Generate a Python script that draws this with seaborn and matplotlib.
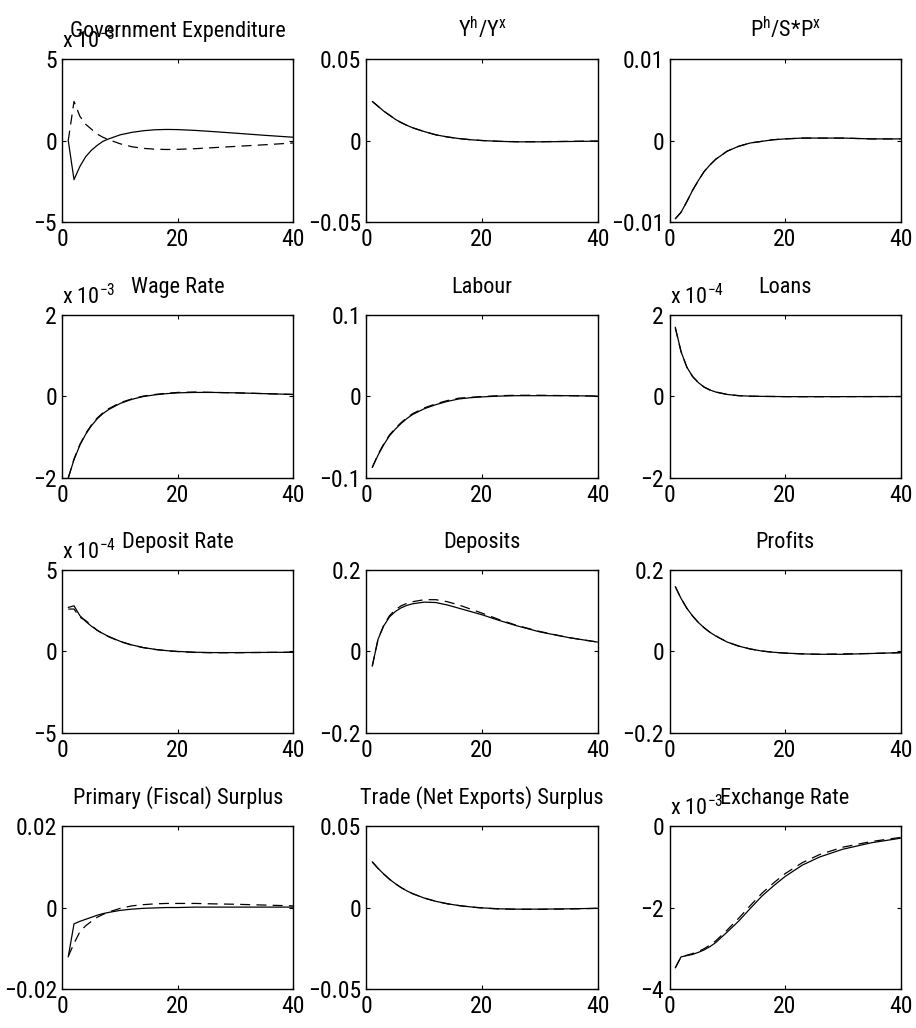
import numpy as np
import pandas as pd
import matplotlib
matplotlib.use("Agg")
import matplotlib.pyplot as plt
from matplotlib import font_manager
import seaborn as sns

# ---------------- data ----------------
periods = [1, 2, 3, 4, 5, 6, 7, 8, 10, 12, 14, 16, 18, 20, 23, 26, 30, 35, 40]

titles = ["Government Expenditure", r"Y$^{\mathrm{h}}$/Y$^{\mathrm{x}}$", r"P$^{\mathrm{h}}$/S*P$^{\mathrm{x}}$",
          "Wage Rate", "Labour", "Loans",
          "Deposit Rate", "Deposits", "Profits",
          "Primary (Fiscal) Surplus", "Trade (Net Exports) Surplus", "Exchange Rate"]

# scale exponents shown as "x 10^k" (values below are in those units)
scale_exp = [-3, None, None, -3, None, -4, -4, None, None, None, None, -3]

y_limits = [(-5, 5), (-0.05, 0.05), (-0.01, 0.01),
            (-2, 2), (-0.1, 0.1), (-2, 2),
            (-5, 5), (-0.2, 0.2), (-0.2, 0.2),
            (-0.02, 0.02), (-0.05, 0.05), (-4, 0)]
y_ticks = [[-5, 0, 5], [-0.05, 0, 0.05], [-0.01, 0, 0.01],
           [-2, 0, 2], [-0.1, 0, 0.1], [-2, 0, 2],
           [-5, 0, 5], [-0.2, 0, 0.2], [-0.2, 0, 0.2],
           [-0.02, 0, 0.02], [-0.05, 0, 0.05], [-4, -2, 0]]
y_ticklabels = [["\u22125", "0", "5"], ["\u22120.05", "0", "0.05"], ["\u22120.01", "0", "0.01"],
                ["\u22122", "0", "2"], ["\u22120.1", "0", "0.1"], ["\u22122", "0", "2"],
                ["\u22125", "0", "5"], ["\u22120.2", "0", "0.2"], ["\u22120.2", "0", "0.2"],
                ["\u22120.02", "0", "0.02"], ["\u22120.05", "0", "0.05"], ["\u22124", "\u22122", "0"]]
x_ticks = [0, 20, 40]

gov_solid = [0, -2.4, -1.6, -1.0, -0.6, -0.3, -0.05, 0.1, 0.35, 0.5, 0.6, 0.66, 0.68, 0.67, 0.62, 0.55, 0.45, 0.32, 0.2]
gov_dash = [0, 2.4, 1.5, 1.0, 0.7, 0.4, 0.2, 0.05, -0.2, -0.38, -0.48, -0.53, -0.55, -0.54, -0.5, -0.44, -0.36, -0.26, -0.15]

yhyx_solid = [0.024, 0.021, 0.018, 0.0155, 0.013, 0.011, 0.0093, 0.0078, 0.0055, 0.0035, 0.0022, 0.0012, 0.0005, 0.0, -0.0005, -0.0008, -0.0008, -0.0006, -0.0004]
yhyx_dash = [0.024, 0.021, 0.018, 0.0155, 0.013, 0.011, 0.0093, 0.0078, 0.0055, 0.0035, 0.0022, 0.0012, 0.0005, 0.0, -0.0005, -0.0007, -0.0007, -0.0005, -0.0003]

phpx_solid = [-0.0096, -0.0088, -0.0075, -0.0061, -0.0049, -0.0038, -0.003, -0.0023, -0.0013, -0.0007, -0.0003, -0.0001, 0.0001, 0.0002, 0.0003, 0.0003, 0.0003, 0.0002, 0.0002]
phpx_dash = [-0.0096, -0.0088, -0.0075, -0.0061, -0.0049, -0.0038, -0.003, -0.0023, -0.0013, -0.0007, -0.0003, -0.0001, 0.0001, 0.0002, 0.0003, 0.0003, 0.0003, 0.0002, 0.0002]

wage_solid = [-2.0, -1.55, -1.2, -0.93, -0.72, -0.55, -0.42, -0.32, -0.17, -0.07, 0.0, 0.04, 0.07, 0.09, 0.1, 0.1, 0.09, 0.07, 0.05]
wage_dash = [-2.0, -1.53, -1.18, -0.91, -0.7, -0.53, -0.4, -0.3, -0.15, -0.06, 0.01, 0.05, 0.08, 0.1, 0.11, 0.1, 0.09, 0.07, 0.05]

labour_solid = [-0.087, -0.072, -0.059, -0.048, -0.04, -0.033, -0.027, -0.022, -0.015, -0.01, -0.006, -0.003, -0.0015, -0.0005, 0.0005, 0.001, 0.001, 0.001, 0.0005]
labour_dash = [-0.087, -0.071, -0.058, -0.047, -0.039, -0.032, -0.026, -0.021, -0.014, -0.009, -0.005, -0.002, -0.001, 0.0, 0.001, 0.0015, 0.0015, 0.001, 0.0005]

loans_solid = [1.7, 1.1, 0.72, 0.49, 0.34, 0.23, 0.16, 0.11, 0.05, 0.02, 0.008, 0.003, 0.0, -0.003, -0.004, -0.004, -0.003, -0.002, -0.001]
loans_dash = [1.68, 1.1, 0.72, 0.49, 0.34, 0.23, 0.16, 0.11, 0.05, 0.02, 0.008, 0.003, 0.0, -0.003, -0.004, -0.004, -0.003, -0.002, -0.001]

deprate_solid = [2.7, 2.8, 2.2, 1.85, 1.55, 1.3, 1.1, 0.92, 0.62, 0.4, 0.24, 0.13, 0.05, 0.0, -0.05, -0.07, -0.07, -0.06, -0.05]
deprate_dash = [2.6, 2.6, 2.1, 1.9, 1.6, 1.3, 1.08, 0.9, 0.6, 0.39, 0.23, 0.12, 0.04, -0.01, -0.06, -0.08, -0.08, -0.06, -0.05]

deposits_solid = [-0.036, 0.03, 0.063, 0.085, 0.098, 0.107, 0.113, 0.117, 0.121, 0.12, 0.114, 0.106, 0.098, 0.09, 0.076, 0.063, 0.048, 0.034, 0.023]
deposits_dash = [-0.036, 0.03, 0.065, 0.088, 0.102, 0.112, 0.118, 0.122, 0.127, 0.127, 0.122, 0.114, 0.104, 0.094, 0.078, 0.064, 0.049, 0.034, 0.023]

profits_solid = [0.159, 0.13, 0.106, 0.087, 0.071, 0.058, 0.047, 0.038, 0.023, 0.013, 0.006, 0.001, -0.002, -0.004, -0.006, -0.007, -0.007, -0.005, -0.003]
profits_dash = [0.159, 0.13, 0.106, 0.087, 0.071, 0.058, 0.047, 0.038, 0.023, 0.013, 0.006, 0.001, -0.002, -0.004, -0.006, -0.007, -0.006, -0.005, -0.003]

fiscal_solid = [-0.0121, -0.004, -0.0034, -0.0029, -0.0024, -0.0019, -0.0015, -0.0012, -0.0007, -0.0004, -0.0002, -0.0001, 0.0, 0.0, 0.0001, 0.0001, 0.0001, 0.0001, 0.0001]
fiscal_dash = [-0.012, -0.0088, -0.006, -0.0045, -0.0034, -0.0024, -0.0017, -0.0011, -0.0002, 0.0004, 0.0007, 0.0009, 0.001, 0.001, 0.001, 0.0009, 0.0008, 0.0006, 0.0004]

trade_solid = [0.028, 0.024, 0.0205, 0.0173, 0.0146, 0.0122, 0.0102, 0.0085, 0.0058, 0.0038, 0.0023, 0.0012, 0.0004, -0.0002, -0.0008, -0.001, -0.001, -0.0008, -0.0005]
trade_dash = [0.028, 0.024, 0.0205, 0.0173, 0.0146, 0.0122, 0.0102, 0.0085, 0.0058, 0.0038, 0.0023, 0.0012, 0.0003, -0.0003, -0.0009, -0.0011, -0.0011, -0.0009, -0.0005]

exch_solid = [-3.48, -3.21, -3.18, -3.15, -3.1, -3.04, -2.96, -2.86, -2.6, -2.33, -2.02, -1.72, -1.47, -1.24, -0.96, -0.76, -0.57, -0.41, -0.3]
exch_dash = [-3.48, -3.21, -3.17, -3.13, -3.08, -3.01, -2.92, -2.82, -2.55, -2.26, -1.95, -1.65, -1.4, -1.17, -0.9, -0.7, -0.52, -0.38, -0.28]

solid_series = [gov_solid, yhyx_solid, phpx_solid, wage_solid, labour_solid, loans_solid,
                deprate_solid, deposits_solid, profits_solid, fiscal_solid, trade_solid, exch_solid]
dash_series = [gov_dash, yhyx_dash, phpx_dash, wage_dash, labour_dash, loans_dash,
               deprate_dash, deposits_dash, profits_dash, fiscal_dash, trade_dash, exch_dash]

# ---------------- style ----------------
sns.set_theme(style="ticks")

# pick a narrow sans face if one is installed, otherwise a regular one at a smaller size
names = sorted({f.name for f in font_manager.fontManager.ttflist})
narrow = [n for n in names if ("Narrow" in n or "Condensed" in n) and "Mono" not in n]
pref = [n for n in ["Liberation Sans Narrow", "Roboto Condensed", "Open Sans Condensed",
                    "Noto Sans Condensed", "DejaVu Sans Condensed"] if n in narrow]
if pref:
    MAIN = pref[0]
    FS, TFS = 17, 16
elif narrow:
    MAIN = narrow[0]
    FS, TFS = 17, 16
else:
    MAIN = "Liberation Sans"
    FS, TFS = 15, 14
FONT = [MAIN, "Liberation Sans", "DejaVu Sans"]
plt.rcParams["font.family"] = FONT
plt.rcParams["mathtext.fontset"] = "custom"
plt.rcParams["mathtext.rm"] = MAIN
plt.rcParams["mathtext.it"] = MAIN
plt.rcParams["mathtext.bf"] = MAIN

fig = plt.figure(figsize=(9.16, 10.28), dpi=100)
fig.patch.set_facecolor("white")

lefts = [0.0682, 0.4001, 0.7309]
bottoms = [0.7840, 0.5350, 0.2870, 0.0379]
W, H = 0.2522, 0.1586

for i in range(12):
    r, c = divmod(i, 3)
    ax = fig.add_axes([lefts[c], bottoms[r], W, H])
    df = pd.DataFrame({"period": periods, "solid": solid_series[i], "dashed": dash_series[i]})
    sns.lineplot(data=df, x="period", y="dashed", ax=ax, color="black", linewidth=0.9,
                 linestyle=(0, (8, 5)))
    sns.lineplot(data=df, x="period", y="solid", ax=ax, color="black", linewidth=0.9)
    ax.set_xlim(0, 40)
    ax.set_ylim(*y_limits[i])
    ax.set_xticks(x_ticks)
    ax.set_xticklabels([str(t) for t in x_ticks])
    ax.set_yticks(y_ticks[i])
    ax.set_yticklabels(y_ticklabels[i])
    ax.set_xlabel("")
    ax.set_ylabel("")
    ax.tick_params(direction="in", length=3, width=0.8, top=True, right=True,
                   labelsize=FS, colors="black")
    ax.tick_params(axis="x", pad=4)
    ax.tick_params(axis="y", pad=4)
    for s in ax.spines.values():
        s.set_visible(True)
        s.set_linewidth(1.0)
        s.set_color("black")
    ax.set_title(titles[i], fontsize=TFS, pad=16, color="black")
    if scale_exp[i] is not None:
        ax.text(0.0, 1.035, "x 10$^{%d}$" % scale_exp[i], transform=ax.transAxes,
                fontsize=FS - 1, ha="left", va="bottom", color="black")

fig.savefig("out.png", dpi=100, facecolor="white")
